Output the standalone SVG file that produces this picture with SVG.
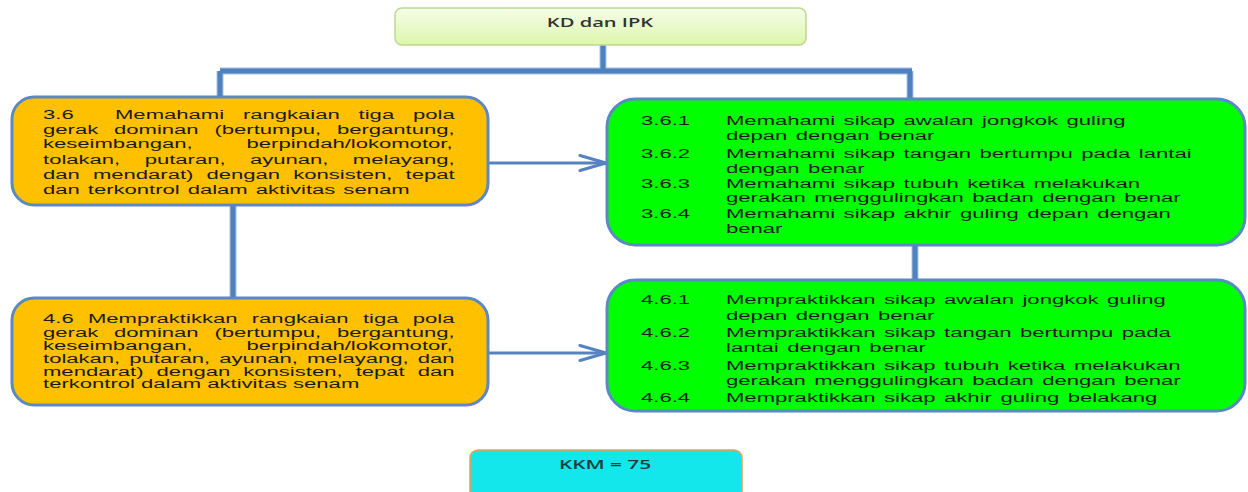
<svg xmlns="http://www.w3.org/2000/svg" width="1248" height="492" viewBox="0 0 1248 492">
  <defs>
    <linearGradient id="gTop" x1="0" y1="0" x2="0" y2="1">
      <stop offset="0" stop-color="#f6fde9"/>
      <stop offset="1" stop-color="#ddf7ab"/>
    </linearGradient>
    <marker id="chev" viewBox="0 0 30 18" refX="28" refY="9" markerWidth="30" markerHeight="18" markerUnits="userSpaceOnUse" orient="auto">
      <path d="M2,1.5 L28,9 L2,16.5" fill="none" stroke="#5683bf" stroke-width="3" stroke-linejoin="round" stroke-linecap="round"/>
    </marker>
  </defs>
  <style>
    .orange { fill: #ffc000; stroke: #5b89c6; stroke-width: 3; }
    .green { fill: #00ff00; stroke: #5b89c6; stroke-width: 3; }
    .body { font-family: "Liberation Sans", Arial, sans-serif; font-size: 12px; fill: #1a1a1a; }
    .list { word-spacing: 1.3px; }
    .title { font-family: "Open Sans", "Liberation Sans", sans-serif; font-size: 13px; font-weight: 600; text-anchor: middle; }
    .wire { fill: none; stroke: #4f81bd; stroke-width: 5; }
    .halo { fill: none; stroke: #a9c2e4; stroke-width: 7; }
    .arrow { fill: none; stroke: #5683bf; stroke-width: 3; }
  </style>

  <g id="connectors">
    <path class="halo" d="M603,45 V71 M220,71 H912 M220,71 V97 M910,71 V99 M233,205 V298 M915,245 V280"/>
    <path class="wire" d="M603,45 V71 M220,71 H912 M220,71 V97 M910,71 V99 M233,205 V298 M915,245 V280"/>
    <line class="arrow" x1="488" y1="163" x2="606" y2="163" marker-end="url(#chev)"/>
    <line class="arrow" x1="488" y1="353" x2="606" y2="353" marker-end="url(#chev)"/>
  </g>

  <g id="node-kd">
    <rect x="395" y="8" width="411" height="37" rx="7" fill="url(#gTop)" stroke="#bcd98f" stroke-width="1.5"/>
    <text class="title" fill="#333333" transform="translate(600,27) scale(1.55,1)">KD dan IPK</text>
  </g>

  <g id="node-3-6">
    <rect class="orange" x="12" y="97" width="476" height="108" rx="22"/>
    <g class="body" transform="translate(43,0) scale(1.84,1)">
      <text y="119" word-spacing="6.9"><tspan x="0">3.6</tspan><tspan x="39.13">Memahami rangkaian tiga pola</tspan></text>
      <text x="0" y="134" word-spacing="5.27">gerak dominan (bertumpu, bergantung,</text>
      <text x="0" y="148" word-spacing="26">keseimbangan, berpindah/lokomotor,</text>
      <text x="0" y="164" word-spacing="9.93">tolakan, putaran, ayunan, melayang,</text>
      <text x="0" y="179" word-spacing="3.78">dan mendarat) dengan konsisten, tepat</text>
      <text x="0" y="194" word-spacing="1">dan terkontrol dalam aktivitas senam</text>
    </g>
  </g>

  <g id="node-4-6">
    <rect class="orange" x="12" y="298" width="476" height="107" rx="22"/>
    <g class="body" transform="translate(43,0) scale(1.84,1)">
      <text x="0" y="323" word-spacing="4.43">4.6 Mempraktikkan rangkaian tiga pola</text>
      <text x="0" y="337" word-spacing="5.27">gerak dominan (bertumpu, bergantung,</text>
      <text x="0" y="350" word-spacing="26">keseimbangan, berpindah/lokomotor,</text>
      <text x="0" y="363" word-spacing="1.6">tolakan, putaran, ayunan, melayang, dan</text>
      <text x="0" y="376" word-spacing="3.78">mendarat) dengan konsisten, tepat dan</text>
      <text x="0" y="388">terkontrol dalam aktivitas senam</text>
    </g>
  </g>

  <g id="node-ipk-3">
    <rect class="green" x="607" y="99" width="638" height="146" rx="28"/>
    <g class="body list" transform="translate(641,0) scale(1.84,1)">
      <text x="0" y="125">3.6.1</text>
      <text x="46.2" y="125">Memahami sikap awalan jongkok guling</text>
      <text x="46.2" y="140">depan dengan benar</text>
      <text x="0" y="158">3.6.2</text>
      <text x="46.2" y="158">Memahami sikap tangan bertumpu pada lantai</text>
      <text x="46.2" y="173">dengan benar</text>
      <text x="0" y="188">3.6.3</text>
      <text x="46.2" y="188">Memahami sikap tubuh ketika melakukan</text>
      <text x="46.2" y="202">gerakan menggulingkan badan dengan benar</text>
      <text x="0" y="218">3.6.4</text>
      <text x="46.2" y="218">Memahami sikap akhir guling depan dengan</text>
      <text x="46.2" y="233">benar</text>
    </g>
  </g>

  <g id="node-ipk-4">
    <rect class="green" x="607" y="280" width="638" height="131" rx="28"/>
    <g class="body list" transform="translate(641,0) scale(1.84,1)">
      <text x="0" y="304">4.6.1</text>
      <text x="46.2" y="304">Mempraktikkan sikap awalan jongkok guling</text>
      <text x="46.2" y="320">depan dengan benar</text>
      <text x="0" y="337">4.6.2</text>
      <text x="46.2" y="337">Mempraktikkan sikap tangan bertumpu pada</text>
      <text x="46.2" y="352">lantai dengan benar</text>
      <text x="0" y="370">4.6.3</text>
      <text x="46.2" y="370">Mempraktikkan sikap tubuh ketika melakukan</text>
      <text x="46.2" y="385">gerakan menggulingkan badan dengan benar</text>
      <text x="0" y="402">4.6.4</text>
      <text x="46.2" y="402">Mempraktikkan sikap akhir guling belakang</text>
    </g>
  </g>

  <g id="node-kkm">
    <rect x="470" y="450" width="272" height="52" rx="8" fill="#14e7ec" stroke="#eea04e" stroke-width="1.5"/>
    <text class="title" fill="#173d3d" transform="translate(605,469) scale(1.6,1)">KKM = 75</text>
  </g>
</svg>
